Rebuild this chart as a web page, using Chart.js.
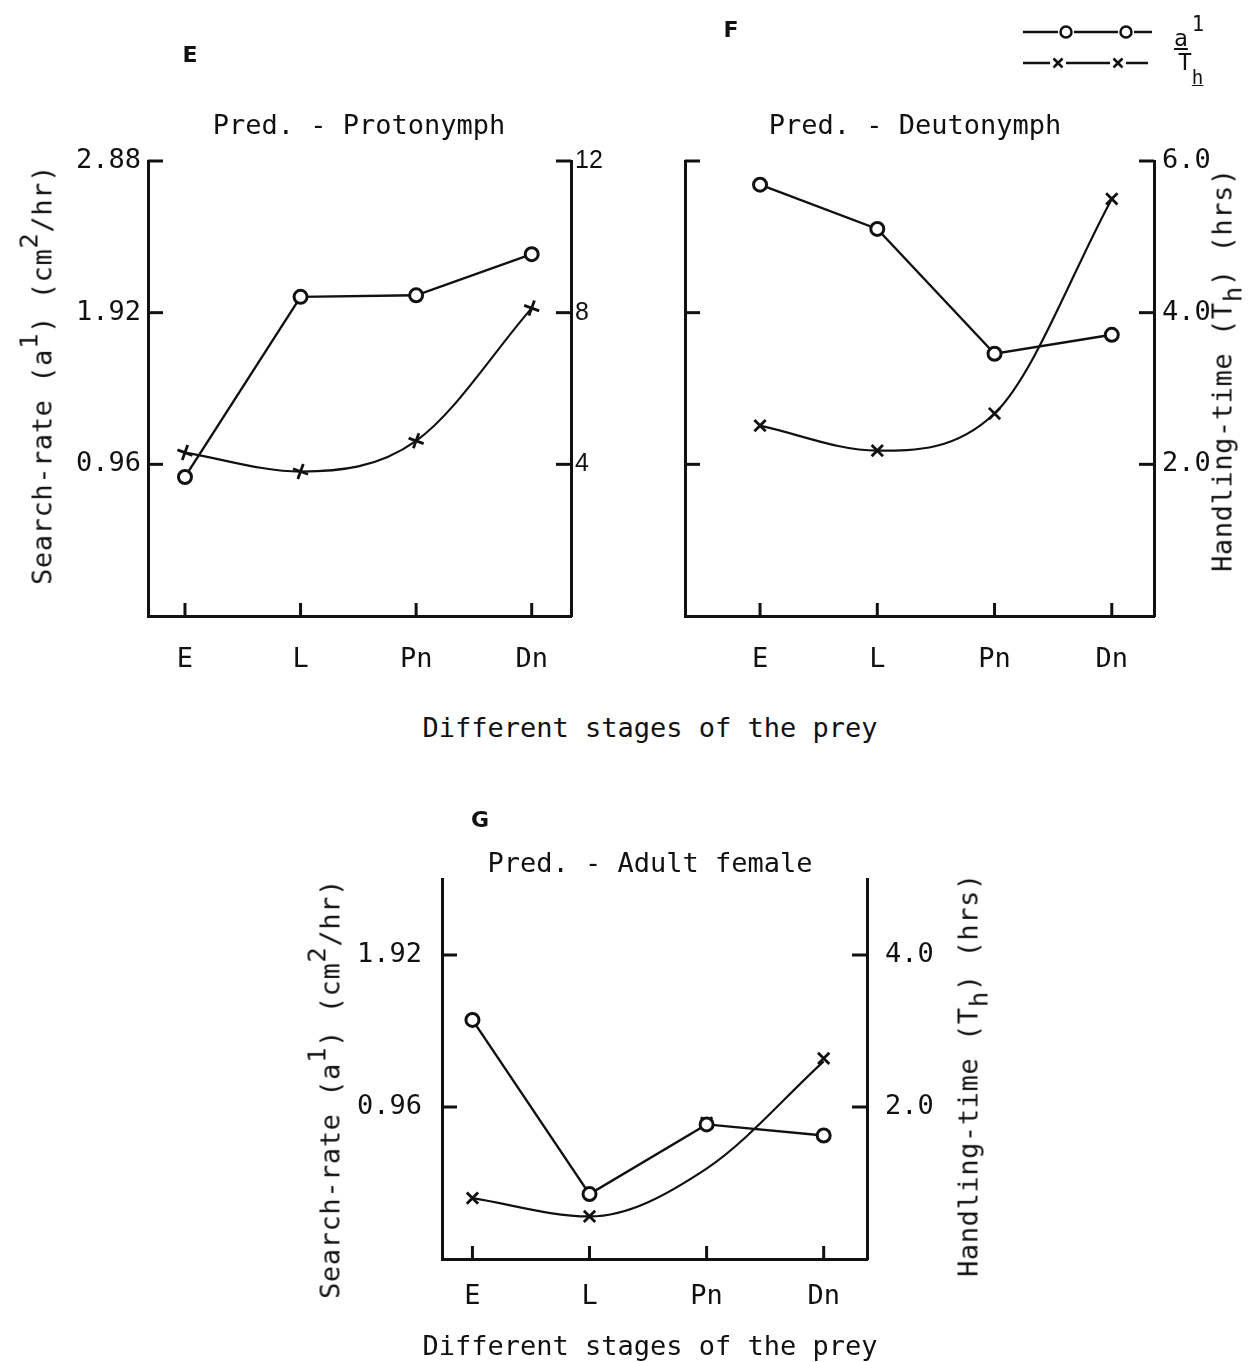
<!DOCTYPE html>
<html>
<head>
<meta charset="utf-8">
<title>Search rate and handling time by prey stage</title>
<script src="https://cdn.jsdelivr.net/npm/chart.js@4.4.1/dist/chart.umd.min.js"></script>
<style>
  body { margin: 0; background: #fff; width: 1252px; height: 1362px; position: relative; overflow: hidden;
         font-family: "DejaVu Sans Mono", monospace; color: #111; }
  canvas { position: absolute; }
  .t { position: absolute; font-size: 27px; line-height: 1; white-space: nowrap; transform: translate(-50%, -50%); }
  .rot { transform: translate(-50%, -50%) rotate(-90deg); letter-spacing: 0.6px; }
  .tag { font-family: "DejaVu Sans", sans-serif; font-size: 22px; font-weight: bold; }
  .t sup { font-size: 0.95em; vertical-align: 0.55em; line-height: 0; }
  .t sub { font-size: 0.95em; vertical-align: -0.4em; line-height: 0; }
  .key { position: absolute; font-size: 23px; line-height: 1; }
</style>
</head>
<body>

<canvas id="chartE" width="620" height="700" style="left:0;top:0"></canvas>
<canvas id="chartF" width="632" height="700" style="left:620px;top:0"></canvas>
<canvas id="chartG" width="700" height="562" style="left:300px;top:800px"></canvas>

<div class="t tag" style="left:190px;top:55px">E</div>
<div class="t tag" style="left:731px;top:30px">F</div>
<div class="t tag" style="left:480px;top:820px">G</div>

<div class="t" style="left:359px;top:124px">Pred. - Protonymph</div>
<div class="t" style="left:915px;top:124px">Pred. - Deutonymph</div>
<div class="t" style="left:650px;top:862px">Pred. - Adult female</div>

<div class="t" style="left:650px;top:727px">Different stages of the prey</div>
<div class="t" style="left:650px;top:1345px">Different stages of the prey</div>

<div class="t rot" style="left:42px;top:375px">Search-rate (a<sup>1</sup>) (cm<sup>2</sup>/hr)</div>
<div class="t rot" style="left:330px;top:1089px">Search-rate (a<sup>1</sup>) (cm<sup>2</sup>/hr)</div>
<div class="t rot" style="left:1222px;top:370px">Handling-time (T<sub>h</sub>) (hrs)</div>
<div class="t rot" style="left:968px;top:1075px">Handling-time (T<sub>h</sub>) (hrs)</div>

<div class="key" style="left:1174px;top:20px"><u>a</u><sup style="font-size:0.9em;position:relative;top:-6px;left:4px">1</sup></div>
<div class="key" style="left:1178px;top:51px">T<sub style="position:relative;top:8px"><u>h</u></sub></div>

<script>
const stages = ['E', 'L', 'Pn', 'Dn'];

// E: predator protonymph
const searchE = [0.88, 2.02, 2.03, 2.29];
const handleE = [4.31, 3.81, 4.62, 8.12];
const curveE = [4.31, 3.81, 4.62, 8.12];
const leftTicksE = [0.96, 1.92, 2.88];
const rightTicksE = [4, 8, 12];

// F: predator deutonymph
const searchF = [2.73, 2.45, 1.66, 1.78];
const handleF = [2.51, 2.18, 2.67, 5.50];
const curveF = [2.51, 2.18, 2.67, 5.50];
const leftTicksF = [0.96, 1.92, 2.88];
const rightTicksF = [2, 4, 6];

// G: predator adult female (fitted curve runs below the Pn point)
const searchG = [1.51, 0.41, 0.85, 0.78];
const handleG = [0.80, 0.56, 1.79, 2.64];
const curveG = [0.80, 0.56, 1.19, 2.60];
const leftTicksG = [0.96, 1.92];
const rightTicksG = [2, 4];

const INK = '#111';
const mono = { family: '"DejaVu Sans Mono", monospace', size: 27 };

const pts = arr => arr.map((v, i) => ({ x: i, y: v }));

// short tick marks pointing into the plot area
const innerTicks = {
  id: 'innerTicks',
  afterDatasetsDraw(chart, args, o) {
    const { ctx, chartArea: a, scales } = chart;
    const seg = (x1, y1, x2, y2) => { ctx.beginPath(); ctx.moveTo(x1, y1); ctx.lineTo(x2, y2); ctx.stroke(); };
    ctx.save();
    ctx.strokeStyle = INK;
    ctx.lineWidth = 3;
    o.left.forEach(v => { const y = scales.y.getPixelForValue(v); seg(a.left, y, a.left + o.len, y); });
    o.right.forEach(v => { const y = scales.y2.getPixelForValue(v); seg(a.right - o.len, y, a.right, y); });
    stages.forEach((s, i) => { const x = scales.x.getPixelForValue(i); seg(x, a.bottom, x, a.bottom - 13); });
    ctx.restore();
  }
};

// symbol key in the top right corner
const keyPlugin = {
  id: 'symbolKey',
  afterDraw(chart, args, o) {
    if (!o.show) return;
    const ctx = chart.ctx;
    ctx.save();
    ctx.strokeStyle = INK;
    ctx.lineWidth = 2.5;
    const row = (y, xs, marks, draw) => {
      let x0 = xs[0];
      marks.forEach(m => {
        ctx.beginPath(); ctx.moveTo(x0, y); ctx.lineTo(m - 8, y); ctx.stroke();
        draw(m, y);
        x0 = m + 8;
      });
      ctx.beginPath(); ctx.moveTo(x0, y); ctx.lineTo(xs[1], y); ctx.stroke();
    };
    row(32, [403, 532], [446, 506], (x, y) => {
      ctx.beginPath(); ctx.arc(x, y, 5.5, 0, Math.PI * 2); ctx.stroke();
    });
    row(63, [403, 528], [438, 498], (x, y) => {
      ctx.beginPath();
      ctx.moveTo(x - 4.5, y - 4.5); ctx.lineTo(x + 4.5, y + 4.5);
      ctx.moveTo(x + 4.5, y - 4.5); ctx.lineTo(x - 4.5, y + 4.5);
      ctx.stroke();
    });
    ctx.restore();
  }
};

function panel(id, p) {
  const axisBorder = { display: true, color: INK, width: 3 };
  return new Chart(document.getElementById(id), {
    type: 'line',
    data: {
      datasets: [
        {
          data: pts(p.search), yAxisID: 'y', borderColor: INK, borderWidth: 2.4,
          tension: 0, pointStyle: 'circle', pointRadius: 6.5, pointBorderWidth: 3,
          pointBorderColor: INK, pointBackgroundColor: '#fff', clip: false, order: 0
        },
        {
          data: pts(p.handle), yAxisID: 'y2', showLine: false,
          pointStyle: p.cross, pointRotation: p.crossRot, pointRadius: 8, pointBorderWidth: 2.8,
          pointBorderColor: INK, clip: false, order: 1
        },
        {
          data: pts(p.curve), yAxisID: 'y2', borderColor: INK, borderWidth: 2.2,
          cubicInterpolationMode: 'monotone', pointRadius: 0, clip: false, order: 2
        }
      ]
    },
    options: {
      responsive: false,
      animation: false,
      devicePixelRatio: 1,
      layout: { padding: { top: p.top, left: 0, right: 0, bottom: 0 } },
      plugins: {
        legend: { display: false },
        tooltip: { enabled: false },
        innerTicks: { left: p.leftTicks, right: p.rightTicks, len: 15 },
        symbolKey: { show: !!p.key }
      },
      scales: {
        x: {
          type: 'linear', min: p.xMin, max: p.xMax,
          afterBuildTicks: s => { s.ticks = stages.map((_, i) => ({ value: i })); },
          afterFit: s => { s.height = p.xH; },
          ticks: { callback: v => stages[v], font: mono, color: INK, padding: p.xPad, maxRotation: 0, autoSkip: false },
          grid: { display: false, drawTicks: false },
          border: axisBorder
        },
        y: {
          position: 'left', min: 0, max: p.leftMax,
          afterBuildTicks: s => { s.ticks = p.leftTicks.map(v => ({ value: v })); },
          afterFit: s => { s.width = p.L; },
          ticks: { display: p.leftLabels, callback: v => v.toFixed(2), font: mono, color: INK, padding: p.lPad },
          grid: { display: false, drawTicks: false },
          border: axisBorder
        },
        y2: {
          position: 'right', min: 0, max: p.rightMax,
          afterBuildTicks: s => { s.ticks = p.rightTicks.map(v => ({ value: v })); },
          afterFit: s => { s.width = p.R; },
          ticks: { callback: p.rightFmt, font: p.rightFont, color: INK, padding: p.rPad },
          grid: { display: false, drawTicks: false },
          border: axisBorder
        }
      }
    },
    plugins: [innerTicks, keyPlugin]
  });
}

panel('chartE', {
  search: searchE, handle: handleE, curve: curveE,
  leftTicks: leftTicksE, rightTicks: rightTicksE, leftMax: 2.88, rightMax: 12,
  leftLabels: true, rightFmt: v => String(v),
  rightFont: { family: '"Liberation Sans", sans-serif', size: 25 },
  cross: 'cross', crossRot: 20,
  xMin: -0.32, xMax: 3.34, top: 161, xH: 84, L: 148, R: 49, xPad: 28, lPad: 7, rPad: 4
});

panel('chartF', {
  search: searchF, handle: handleF, curve: curveF,
  leftTicks: leftTicksF, rightTicks: rightTicksF, leftMax: 2.88, rightMax: 6,
  leftLabels: false, rightFmt: v => v.toFixed(1), rightFont: mono,
  cross: 'crossRot', crossRot: 0, key: true,
  xMin: -0.64, xMax: 3.36, top: 161, xH: 84, L: 65, R: 98, xPad: 28, lPad: 7, rPad: 8
});

panel('chartG', {
  search: searchG, handle: handleG, curve: curveG,
  leftTicks: leftTicksG, rightTicks: rightTicksG, leftMax: 2.4, rightMax: 5,
  leftLabels: true, rightFmt: v => v.toFixed(1), rightFont: mono,
  cross: 'crossRot', crossRot: 0,
  xMin: -0.26, xMax: 3.37, top: 79, xH: 103, L: 142, R: 133, xPad: 22, lPad: 20, rPad: 18
});
</script>
</body>
</html>
